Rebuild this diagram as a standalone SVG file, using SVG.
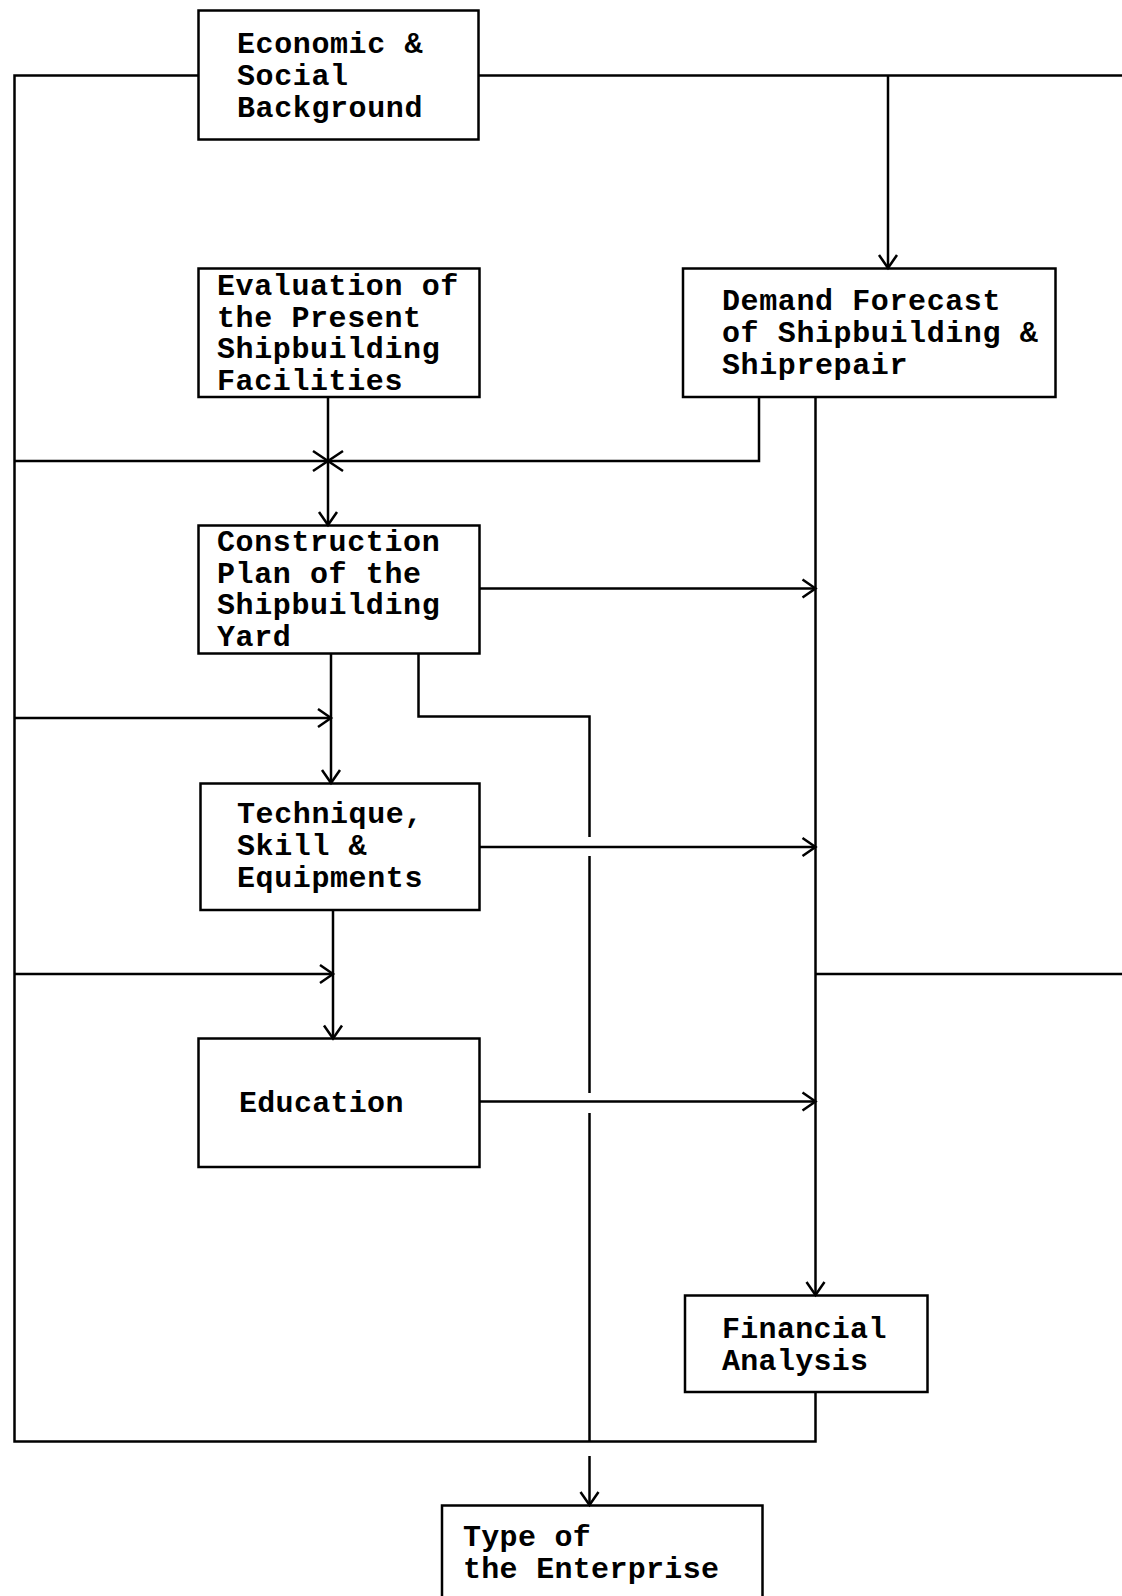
<svg xmlns="http://www.w3.org/2000/svg" width="1122" height="1596" viewBox="0 0 1122 1596">
<style>
.box{fill:none;stroke:#000;stroke-width:2.5}
.ln{fill:none;stroke:#000;stroke-width:2.5}
.t{font-family:"Liberation Mono","Courier New",monospace;font-size:30px;font-weight:bold;letter-spacing:0.6px;fill:#000}
.c{font-family:"Liberation Mono","Courier New",monospace;font-size:30px;font-weight:bold;letter-spacing:0.3px;fill:#000}
</style>
<defs>
<marker id="ah" markerUnits="userSpaceOnUse" markerWidth="30" markerHeight="30" viewBox="-15 -15 30 30" refX="0" refY="0" orient="auto">
<path d="M-13,-9 L0,0 L-13,9" fill="none" stroke="#000" stroke-width="2.5"/>
</marker>
</defs>
<rect width="1122" height="1596" fill="#fff"/>
<g id="connectors">
<path class="ln" d="M198.5,75.5 H14.5 V1441.5 H815.5 V1392"/>
<path class="ln" d="M478.5,75.5 H1122"/>
<path class="ln" d="M888,75.5 V268" marker-end="url(#ah)"/>
<path class="ln" d="M759,397 V461 H14.5"/>
<path class="ln" d="M328,397 V525" marker-end="url(#ah)"/>
<path class="ln" d="M313,451 L343,471 M313,471 L343,451"/>
<path class="ln" d="M815.5,397 V1295" marker-end="url(#ah)"/>
<path class="ln" d="M479.5,588.5 H815.5" marker-end="url(#ah)"/>
<path class="ln" d="M331,653.5 V783" marker-end="url(#ah)"/>
<path class="ln" d="M14.5,718 H331" marker-end="url(#ah)"/>
<path class="ln" d="M418.5,653.5 V716.5 H589.5 V837 M589.5,856 V1093 M589.5,1113 V1441.5"/>
<path class="ln" d="M589.5,1456 V1505" marker-end="url(#ah)"/>
<path class="ln" d="M479.5,847 H815.5" marker-end="url(#ah)"/>
<path class="ln" d="M333,910 V1038.5" marker-end="url(#ah)"/>
<path class="ln" d="M14.5,974 H333" marker-end="url(#ah)"/>
<path class="ln" d="M815.5,974 H1122"/>
<path class="ln" d="M479.5,1101.5 H815.5" marker-end="url(#ah)"/>
</g>
<g id="economic">
<rect class="box" x="198.5" y="10.5" width="280" height="129"/>
<text class="t" x="237" y="53">Economic &amp;</text>
<text class="t" x="237" y="85">Social</text>
<text class="t" x="237" y="117">Background</text>
</g>
<g id="evaluation">
<rect class="box" x="198.5" y="268.5" width="281" height="128.5"/>
<text class="t" x="217" y="295">Evaluation of</text>
<text class="t" x="217" y="326.5">the Present</text>
<text class="t" x="217" y="358">Shipbuilding</text>
<text class="t" x="217" y="390">Facilities</text>
</g>
<g id="demand">
<rect class="box" x="683" y="268.5" width="372.5" height="128.5"/>
<text class="t" x="722" y="310">Demand Forecast</text>
<text class="t" x="722" y="342">of Shipbuilding &amp;</text>
<text class="t" x="722" y="374">Shiprepair</text>
</g>
<g id="construction">
<rect class="box" x="198.5" y="525.5" width="281" height="128"/>
<text class="t" x="217" y="551">Construction</text>
<text class="t" x="217" y="582.5">Plan of the</text>
<text class="t" x="217" y="614">Shipbuilding</text>
<text class="t" x="217" y="646">Yard</text>
</g>
<g id="technique">
<rect class="box" x="200.5" y="783.5" width="279" height="126.5"/>
<text class="t" x="237" y="823">Technique,</text>
<text class="t" x="237" y="854.5">Skill &amp;</text>
<text class="t" x="237" y="886.5">Equipments</text>
</g>
<g id="education">
<rect class="box" x="198.5" y="1038.5" width="281" height="128.5"/>
<text class="c" x="239" y="1112">Education</text>
</g>
<g id="financial">
<rect class="box" x="685" y="1295.5" width="242.5" height="96.5"/>
<text class="c" x="722" y="1338">Financial</text>
<text class="c" x="722" y="1370">Analysis</text>
</g>
<g id="type">
<rect class="box" x="442" y="1505.5" width="320.5" height="120"/>
<text class="c" x="463" y="1546">Type of</text>
<text class="c" x="463" y="1578">the Enterprise</text>
</g>
</svg>
